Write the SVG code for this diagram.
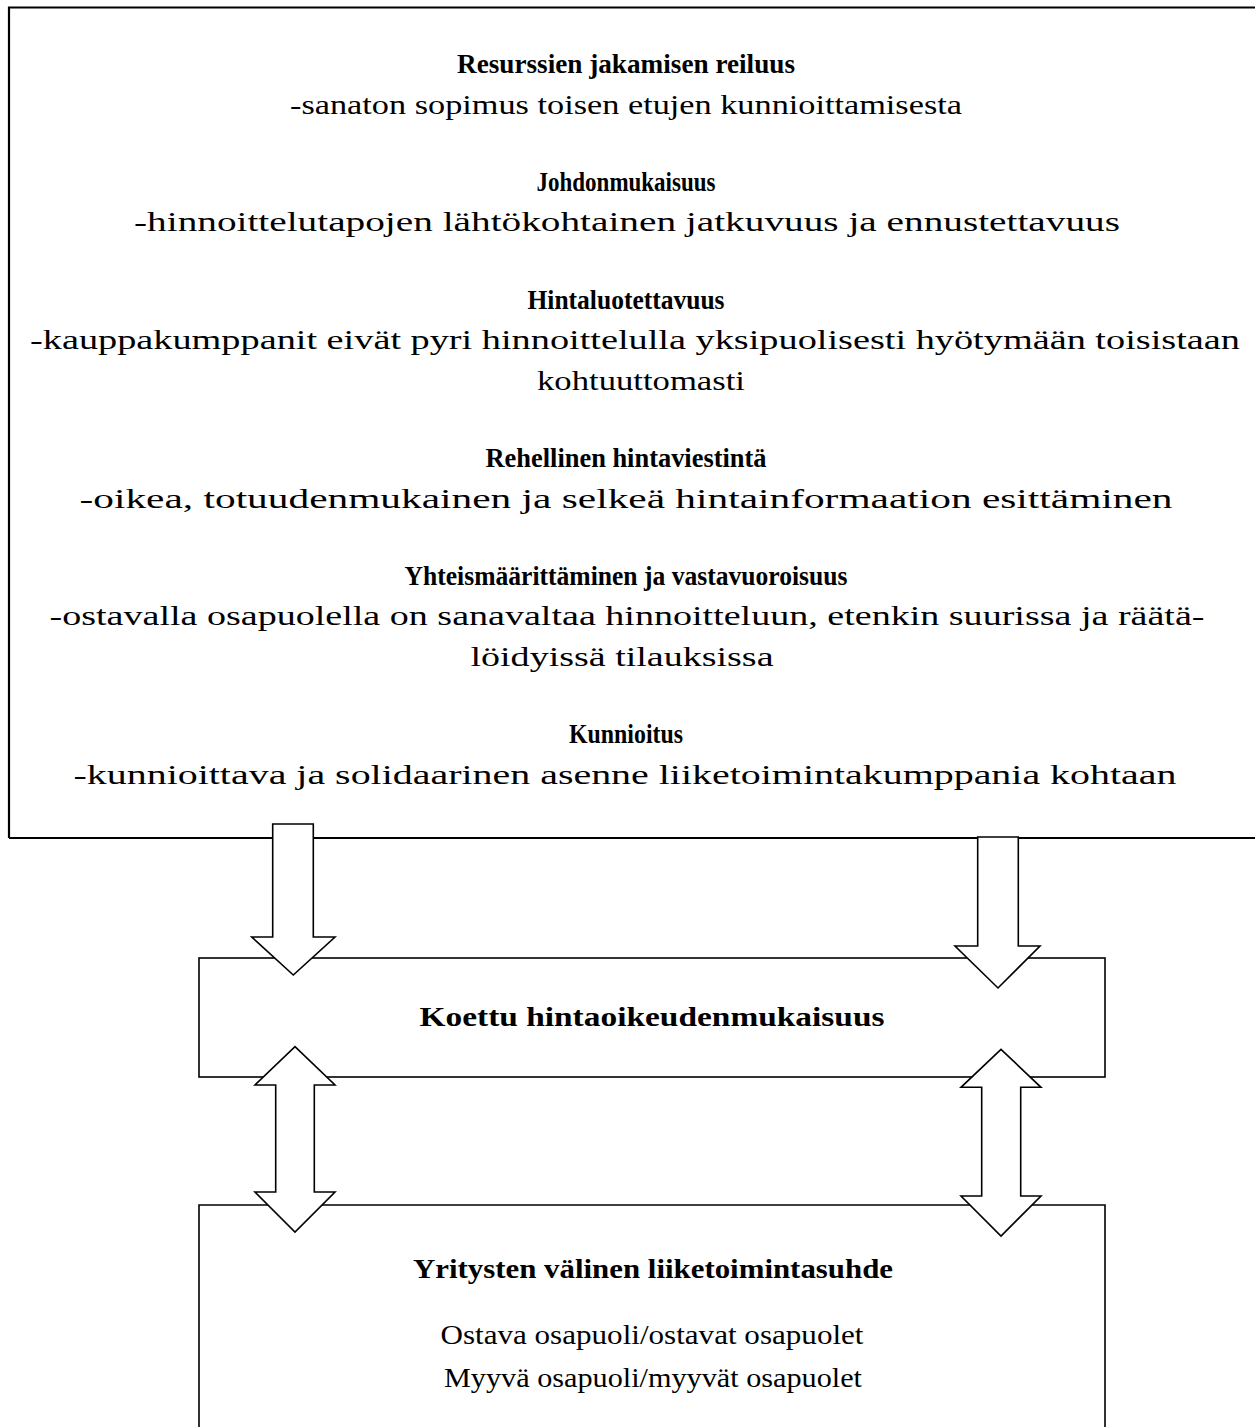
<svg xmlns="http://www.w3.org/2000/svg" width="1255" height="1427" viewBox="0 0 1255 1427">
<style>
.t{font-family:"Liberation Serif","Times New Roman",serif;font-size:27px;fill:#000;text-anchor:middle}
.b{font-weight:bold}
.box{fill:#fff;stroke:#000;stroke-width:1.6}
.arr{fill:#fff;stroke:#000;stroke-width:1.6;stroke-linejoin:miter}
</style>
<rect width="1255" height="1427" fill="#fff"/>
<g id="criteria">
<path d="M9,838 L9,7.5 L1260,7.5 M9,838 L1260,838" fill="none" stroke="#000" stroke-width="2.2"/>
<text class="t b" x="626" y="73" textLength="338" lengthAdjust="spacingAndGlyphs">Resurssien jakamisen reiluus</text>
<text class="t" x="626" y="113.6" textLength="672" lengthAdjust="spacingAndGlyphs">-sanaton sopimus toisen etujen kunnioittamisesta</text>
<text class="t b" x="626" y="190.8" textLength="179" lengthAdjust="spacingAndGlyphs">Johdonmukaisuus</text>
<text class="t" x="627" y="231.4" textLength="986" lengthAdjust="spacingAndGlyphs">-hinnoittelutapojen lähtökohtainen jatkuvuus ja ennustettavuus</text>
<text class="t b" x="626" y="308.6" textLength="197" lengthAdjust="spacingAndGlyphs">Hintaluotettavuus</text>
<text class="t" x="635" y="349.2" textLength="1210" lengthAdjust="spacingAndGlyphs">-kauppakumppanit eivät pyri hinnoittelulla yksipuolisesti hyötymään toisistaan</text>
<text class="t" x="641" y="389.8" textLength="208" lengthAdjust="spacingAndGlyphs">kohtuuttomasti</text>
<text class="t b" x="626" y="467" textLength="281" lengthAdjust="spacingAndGlyphs">Rehellinen hintaviestintä</text>
<text class="t" x="626" y="507.6" textLength="1093" lengthAdjust="spacingAndGlyphs">-oikea, totuudenmukainen ja selkeä hintainformaation esittäminen</text>
<text class="t b" x="626" y="584.8" textLength="443" lengthAdjust="spacingAndGlyphs">Yhteismäärittäminen ja vastavuoroisuus</text>
<text class="t" x="627" y="625.4" textLength="1155" lengthAdjust="spacingAndGlyphs">-ostavalla osapuolella on sanavaltaa hinnoitteluun, etenkin suurissa ja räätä-</text>
<text class="t" x="622" y="666" textLength="303" lengthAdjust="spacingAndGlyphs">löidyissä tilauksissa</text>
<text class="t b" x="626" y="743.2" textLength="114" lengthAdjust="spacingAndGlyphs">Kunnioitus</text>
<text class="t" x="625" y="783.8" textLength="1103" lengthAdjust="spacingAndGlyphs">-kunnioittava ja solidaarinen asenne liiketoimintakumppania kohtaan</text>
</g>
<g id="perceived">
<rect class="box" x="199" y="958" width="906" height="119"/>
<text class="t b" x="652" y="1026" textLength="465" lengthAdjust="spacingAndGlyphs">Koettu hintaoikeudenmukaisuus</text>
</g>
<g id="relationship">
<path class="box" d="M199,1430 L199,1205 L1105,1205 L1105,1430"/>
<text class="t b" x="653" y="1278" textLength="480" lengthAdjust="spacingAndGlyphs">Yritysten välinen liiketoimintasuhde</text>
<text class="t" x="652" y="1344" textLength="423" lengthAdjust="spacingAndGlyphs">Ostava osapuoli/ostavat osapuolet</text>
<text class="t" x="653" y="1387" textLength="418" lengthAdjust="spacingAndGlyphs">Myyvä osapuoli/myyvät osapuolet</text>
</g>
<g id="connectors">
<path class="arr" d="M272.7,824 L313.3,824 L313.3,937 L335,937 L293.3,975 L251.7,937 L272.7,937 Z"/>
<path class="arr" d="M977.7,837 L1018.3,837 L1018.3,946 L1040,946 L998,988 L955,946 L977.7,946 Z"/>
<path class="arr" d="M295,1046.7 L335,1085 L314.3,1085 L314.3,1192 L335,1192 L295,1232 L255,1192 L275.7,1192 L275.7,1085 L255,1085 Z"/>
<path class="arr" d="M1001,1049.3 L1041,1087.3 L1020.7,1087.3 L1020.7,1196 L1041,1196 L1001,1236 L961,1196 L981.7,1196 L981.7,1087.3 L961,1087.3 Z"/>
</g>
</svg>
